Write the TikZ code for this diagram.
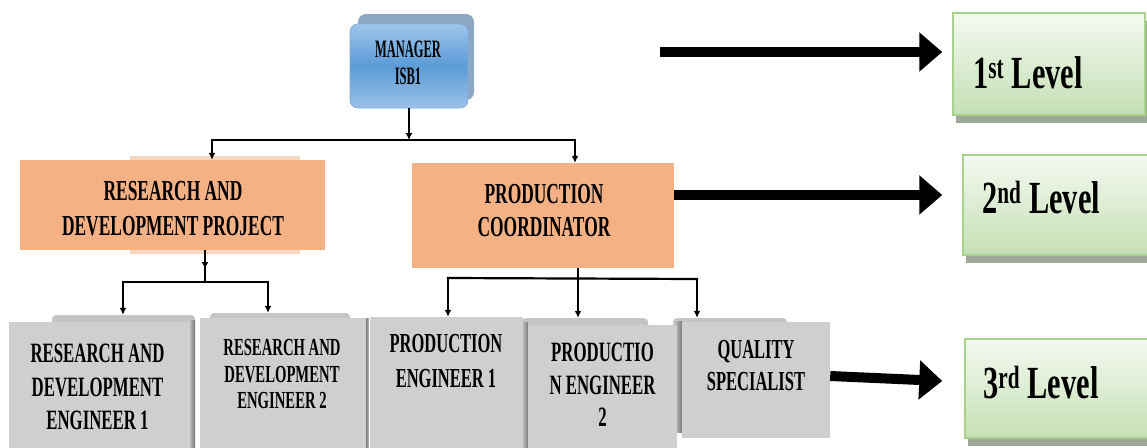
\documentclass[tikz,border=0pt]{standalone}
\usepackage{fontspec}
\setmainfont{Liberation Serif}
\newfontfamily\boxfont{Liberation Serif}[FakeStretch=0.6]
\newfontfamily\mgrfont{Liberation Serif}[FakeStretch=0.5]
\newfontfamily\lvlfont{Liberation Serif}[FakeStretch=0.66]
\usetikzlibrary{arrows.meta,calc}
\definecolor{orangebox}{HTML}{F4B183}
\definecolor{orangeback}{HTML}{F8D7C0}
\definecolor{greybox}{HTML}{D0CECE}
\definecolor{greyback}{HTML}{C6C4C4}
\definecolor{greydark}{HTML}{7A7A7A}
\definecolor{greenedge}{HTML}{A9D18E}
\definecolor{greentop}{HTML}{F4F9F1}
\definecolor{greenbot}{HTML}{C5E0B4}
\definecolor{greenshadow}{HTML}{9DA897}
\definecolor{bluetop}{HTML}{9EC5EC}
\definecolor{bluemid}{HTML}{5B9BD7}
\definecolor{bluebot}{HTML}{9CC2E8}
\definecolor{blueedge}{HTML}{7FAEDB}
\definecolor{blueback}{HTML}{8CA6C4}

\begin{document}
\begin{tikzpicture}[x=1pt,y=-1pt,
  box/.style={rectangle, inner sep=0pt, draw=none},
  orangebx/.style={box, fill=orangebox},
  orangebk/.style={box, fill=orangeback},
  greybx/.style={box, fill=greybox},
  greybk/.style={box, fill=greyback, rounded corners=4pt},
  levelbx/.style={box, draw=greenedge, line width=1.5pt, top color=greentop, bottom color=greenbot},
  levelshadow/.style={box, fill=greenshadow},
  boxtext/.style={inner sep=0pt, align=center, font=\boxfont\bfseries},
  link/.style={line width=2.2pt, draw=black},
  linkarrow/.style={link, -{Latex[length=7pt,width=7pt]}},
  bigarrow/.style={line width=10pt, -{Triangle[length=23pt,width=38pt]}},
  lvltext/.style={inner sep=0pt, anchor=base west, font=\lvlfont\bfseries\fontsize{46}{50}\selectfont},
]
\useasboundingbox (0,0) rectangle (1147,447);

% ---------- manager ----------
\node[box, fill=blueback, rounded corners=8pt, minimum width=116pt, minimum height=86pt] (mgrback) at (416,57) {};
\node[box, draw=blueedge, line width=0.8pt, rounded corners=8pt, top color=bluetop, bottom color=bluebot, middle color=bluemid,
      minimum width=118pt, minimum height=84pt] (mgr) at (409,66) {};
\node[inner sep=0pt, align=center, font=\mgrfont\bfseries\fontsize{25}{27}\selectfont] (mgr-t) at (408,63) {MANAGER\\ISB1};

% ---------- second level ----------
\node[orangebk, minimum width=170pt, minimum height=98pt] (rdpback) at (215,205) {};
\node[orangebk, minimum width=177pt, minimum height=100pt] (pcback) at (579,213) {};
\node[orangebx, minimum width=305pt, minimum height=90pt] (rdp) at (172.5,205) {};
\node[orangebx, minimum width=262pt, minimum height=105pt] (pc) at (543,215.5) {};
\node[boxtext, font=\boxfont\bfseries\fontsize{29}{35}\selectfont] (rdp-t) at (173,209)
  {RESEARCH AND\\DEVELOPMENT PROJECT};
\node[boxtext, font=\boxfont\bfseries\fontsize{29}{33}\selectfont] (pc-t) at (544,211)
  {PRODUCTION\\COORDINATOR};

% ---------- third level ----------
\node[greybk, minimum width=143pt, minimum height=140pt] (rde1back) at (123.5,385) {};
\node[greybk, minimum width=140pt, minimum height=142pt] (rde2back) at (280,384) {};
\node[greybk, minimum width=126pt, minimum height=136pt] (pe2back) at (585,386) {};
\node[greybk, minimum width=114pt, minimum height=112pt] (qsback) at (730,374) {};
\path[left color=greyback, right color=greydark] (189,320) rectangle (195,447);
\path[left color=greyback, right color=greydark] (522,322) rectangle (528,447);
\path[left color=greyback, right color=greydark] (674,321) rectangle (682,432);
\path[left color=greydark, right color=greyback] (366,318) rectangle (369,447);

\node[greybx, minimum width=181pt, minimum height=132pt] (rde1) at (99.5,388) {};
\node[greybx, minimum width=166pt, minimum height=136pt] (rde2) at (283,386) {};
\node[greybx, minimum width=153pt, minimum height=136pt] (pe1) at (446.5,385) {};
\node[greybx, minimum width=149pt, minimum height=128pt] (pe2) at (602.5,389) {};
\node[greybx, minimum width=148pt, minimum height=116pt] (qs) at (756,380) {};

\node[boxtext, font=\boxfont\bfseries\fontsize{28}{33.5}\selectfont] (rde1-t) at (97.5,387)
  {RESEARCH AND\\DEVELOPMENT\\ENGINEER 1};
\node[boxtext, font=\boxfont\bfseries\fontsize{24.5}{26.5}\selectfont] (rde2-t) at (282,374.5)
  {RESEARCH AND\\DEVELOPMENT\\ENGINEER 2};
\node[boxtext, font=\boxfont\bfseries\fontsize{27.5}{35}\selectfont] (pe1-t) at (446,361)
  {PRODUCTION\\ENGINEER 1};
\node[boxtext, font=\boxfont\bfseries\fontsize{28}{32.5}\selectfont] (pe2-t) at (602.5,385)
  {PRODUCTIO\\N ENGINEER\\2};
\node[boxtext, font=\boxfont\bfseries\fontsize{27.5}{32}\selectfont] (qs-t) at (756,366)
  {QUALITY\\SPECIALIST};

% ---------- level markers ----------
\node[levelshadow, minimum width=192pt, minimum height=102pt] (l1s) at (1052,72) {};
\node[levelshadow, minimum width=189pt, minimum height=100pt] (l2s) at (1060.5,213) {};
\node[levelshadow, minimum width=187pt, minimum height=99pt] (l3s) at (1061.5,396) {};
\node[levelbx, minimum width=192pt, minimum height=102pt] (l1) at (1049,64) {};
\node[levelbx, minimum width=189pt, minimum height=100pt] (l2) at (1057.5,205) {};
\node[levelbx, minimum width=187pt, minimum height=99pt] (l3) at (1058.5,388.5) {};
\node[lvltext] (l1-t) at (973,88) {1\textsuperscript{st} Level};
\node[lvltext] (l2-t) at (982,213) {2\textsuperscript{nd} Level};
\node[lvltext] (l3-t) at (983,398) {3\textsuperscript{rd} Level};

% ---------- reporting lines ----------
\coordinate (j0) at (409,140);
\coordinate (jl) at (212,140);
\coordinate (jr) at (575,140);
\draw[linkarrow] (mgr.south) -- (j0);
\draw[link, line cap=rect] (jl) -- (jr);
\draw[linkarrow] (jl) -- (jl |- rdp.north);
\draw[linkarrow] (jr) -- (jr |- pc.north);

\coordinate (k0) at (205,282);
\coordinate (kl) at (123,282);
\coordinate (kr) at (268,282);
\draw[linkarrow] (k0 |- rdp.south) -- ($(k0)+(0,-13)$);
\draw[link] ($(k0)+(0,-16)$) -- (k0);
\draw[link, line cap=rect] (kl) -- (kr);
\draw[linkarrow] (kl) -- (kl |- rde1back.north);
\draw[linkarrow] (kr) -- (kr |- rde2back.north);

\coordinate (m0) at (578,278);
\coordinate (ml) at (448,278);
\coordinate (mr) at (697,279);
\draw[link] (m0 |- pc.south) -- (m0);
\draw[link, line cap=rect] (ml) -- (mr);
\draw[linkarrow] (m0) -- (m0 |- pe2back.north);
\draw[linkarrow] (ml) -- (ml |- pe1.north);
\draw[linkarrow] (mr) -- (mr |- qsback.north);

% ---------- level arrows ----------
\coordinate (a1) at (660,52);
\coordinate (a2) at (0,195);
\coordinate (a3) at (0,376);
\draw[bigarrow] (a1) -- ($(l1.west |- a1)+(-10,0)$);
\draw[bigarrow] (pc.east |- a2) -- ($(l2.west |- a2)+(-20,0)$);
\draw[bigarrow] (qs.east |- a3) -- ($(l3.west |- a3)+(-22,5)$);
\end{tikzpicture}
\end{document}
